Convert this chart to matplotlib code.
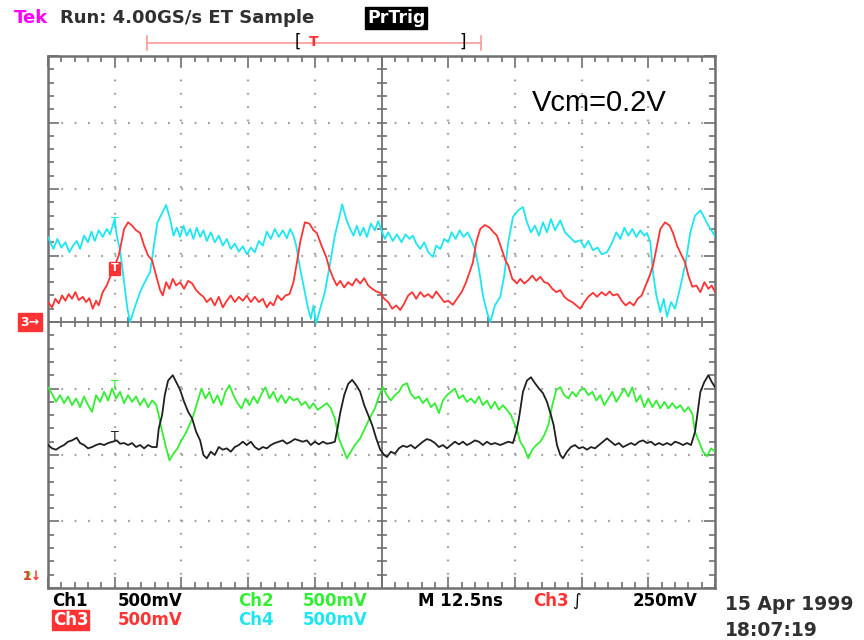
import numpy as np
from matplotlib import pyplot as plt

# screen is 10 x 8 divisions, time in div, level in div
ch4_t = [0.00, 0.08, 0.14, 0.20, 0.26, 0.32, 0.37, 0.43, 0.48, 0.54, 0.60, 0.65, 0.70, 0.76, 0.82, 0.88, 0.93, 0.97,
         1.00, 1.03, 1.08, 1.14, 1.19, 1.23, 1.30, 1.38, 1.45, 1.53, 1.58, 1.64, 1.70, 1.77, 1.83, 1.88, 1.93, 1.98,
         2.03, 2.08, 2.13, 2.18, 2.23, 2.28, 2.33, 2.38, 2.44, 2.50, 2.56, 2.62, 2.68, 2.74, 2.80, 2.86, 2.92, 2.98,
         3.04, 3.10, 3.16, 3.22, 3.28, 3.34, 3.40, 3.46, 3.52, 3.58, 3.63, 3.68, 3.72, 3.78, 3.84, 3.90, 3.94, 3.98,
         4.02, 4.08, 4.15, 4.23, 4.30, 4.36, 4.41, 4.47, 4.53, 4.58, 4.63, 4.68, 4.73, 4.78, 4.84, 4.90, 4.95, 5.00,
         5.05, 5.10, 5.17, 5.23, 5.30, 5.36, 5.42, 5.47, 5.52, 5.58, 5.64, 5.70, 5.77, 5.82, 5.88, 5.94, 6.00, 6.05,
         6.11, 6.17, 6.23, 6.29, 6.34, 6.40, 6.46, 6.52, 6.58, 6.63, 6.70, 6.78, 6.84, 6.90, 6.97, 7.05, 7.12, 7.18,
         7.24, 7.30, 7.36, 7.42, 7.48, 7.54, 7.60, 7.68, 7.75, 7.82, 7.90, 7.98, 8.04, 8.10, 8.17, 8.24, 8.30, 8.38,
         8.45, 8.52, 8.58, 8.64, 8.70, 8.76, 8.82, 8.88, 8.94, 8.98, 9.03, 9.07, 9.12, 9.18, 9.23, 9.28, 9.34, 9.40,
         9.48, 9.56, 9.63, 9.70, 9.78, 9.85, 9.90, 9.97, 10.0]
ch4_v = [1.28, 1.10, 1.25, 1.12, 1.20, 1.05, 1.14, 1.22, 1.10, 1.30, 1.20, 1.36, 1.22, 1.38, 1.28, 1.40, 1.32, 1.45,
         1.55, 1.30, 1.08, 0.60, 0.20, 0.00, 0.22, 0.45, 0.60, 0.75, 1.10, 1.50, 1.62, 1.76, 1.55, 1.30, 1.42, 1.28,
         1.45, 1.30, 1.40, 1.25, 1.42, 1.28, 1.38, 1.22, 1.35, 1.20, 1.30, 1.15, 1.25, 1.10, 1.18, 1.06, 1.14, 1.02,
         1.12, 1.05, 1.22, 1.15, 1.36, 1.25, 1.40, 1.28, 1.38, 1.26, 1.40, 1.30, 1.15, 0.80, 0.50, 0.20, 0.05, 0.25,
         -0.02, 0.20, 0.45, 0.89, 1.30, 1.55, 1.77, 1.55, 1.40, 1.30, 1.45, 1.30, 1.42, 1.28, 1.48, 1.38, 1.52, 1.38,
         1.25, 1.35, 1.22, 1.32, 1.20, 1.32, 1.25, 1.30, 1.18, 1.10, 1.20, 1.05, 0.98, 1.15, 1.10, 1.25, 1.20, 1.35,
         1.25, 1.38, 1.28, 1.35, 1.25, 1.10, 0.80, 0.40, 0.15, 0.00, 0.25, 0.38, 0.70, 1.20, 1.58, 1.68, 1.73, 1.50,
         1.35, 1.45, 1.30, 1.50, 1.35, 1.55, 1.38, 1.53, 1.35, 1.28, 1.20, 1.23, 1.12, 1.22, 1.08, 1.12, 1.02, 1.05,
         1.18, 1.35, 1.25, 1.42, 1.30, 1.40, 1.28, 1.38, 1.30, 1.34, 1.20, 0.74, 0.40, 0.15, 0.35, 0.08, 0.30, 0.20,
         0.53, 0.90, 1.35, 1.60, 1.68, 1.55, 1.45, 1.34, 1.28]

ch3_t = [0.00, 0.06, 0.11, 0.16, 0.21, 0.26, 0.31, 0.36, 0.41, 0.46, 0.52, 0.57, 0.62, 0.67, 0.72, 0.76, 0.82, 0.88,
         0.94, 1.00, 1.06, 1.10, 1.14, 1.20, 1.26, 1.32, 1.38, 1.44, 1.50, 1.56, 1.62, 1.68, 1.72, 1.77, 1.82, 1.87,
         1.92, 1.98, 2.04, 2.10, 2.16, 2.22, 2.28, 2.33, 2.38, 2.44, 2.50, 2.56, 2.62, 2.68, 2.74, 2.80, 2.86, 2.92,
         2.98, 3.04, 3.10, 3.16, 3.22, 3.28, 3.33, 3.38, 3.44, 3.50, 3.56, 3.62, 3.68, 3.73, 3.78, 3.85, 3.92, 3.98,
         4.03, 4.10, 4.17, 4.22, 4.28, 4.33, 4.38, 4.44, 4.50, 4.56, 4.62, 4.68, 4.74, 4.80, 4.86, 4.92, 4.98, 5.04,
         5.10, 5.16, 5.22, 5.28, 5.34, 5.40, 5.46, 5.52, 5.58, 5.64, 5.70, 5.76, 5.82, 5.88, 5.94, 6.00, 6.07, 6.13,
         6.20, 6.26, 6.32, 6.37, 6.42, 6.48, 6.55, 6.62, 6.68, 6.73, 6.80, 6.86, 6.90, 6.96, 7.03, 7.08, 7.14, 7.20,
         7.26, 7.32, 7.38, 7.44, 7.50, 7.56, 7.62, 7.68, 7.74, 7.80, 7.86, 7.92, 7.98, 8.04, 8.10, 8.17, 8.23, 8.30,
         8.36, 8.42, 8.47, 8.54, 8.60, 8.66, 8.72, 8.78, 8.84, 8.90, 8.96, 9.02, 9.07, 9.12, 9.18, 9.25, 9.32, 9.37,
         9.43, 9.50, 9.55, 9.60, 9.66, 9.72, 9.78, 9.84, 9.90, 9.95, 10.0]
ch3_v = [0.30, 0.22, 0.35, 0.28, 0.40, 0.32, 0.42, 0.35, 0.45, 0.33, 0.38, 0.30, 0.36, 0.20, 0.32, 0.25, 0.45, 0.55,
         0.70, 0.85, 1.00, 1.20, 1.40, 1.50, 1.45, 1.38, 1.34, 1.15, 1.00, 0.93, 0.70, 0.48, 0.40, 0.60, 0.50, 0.65,
         0.55, 0.60, 0.50, 0.62, 0.58, 0.48, 0.42, 0.38, 0.30, 0.36, 0.25, 0.38, 0.22, 0.32, 0.40, 0.30, 0.38, 0.32,
         0.40, 0.30, 0.38, 0.30, 0.35, 0.22, 0.30, 0.25, 0.40, 0.33, 0.40, 0.42, 0.60, 0.89, 1.20, 1.50, 1.48, 1.38,
         1.34, 1.15, 0.98, 0.80, 0.65, 0.55, 0.62, 0.52, 0.60, 0.55, 0.65, 0.58, 0.66, 0.55, 0.50, 0.46, 0.44, 0.35,
         0.30, 0.20, 0.25, 0.18, 0.28, 0.40, 0.45, 0.35, 0.45, 0.38, 0.42, 0.36, 0.46, 0.38, 0.30, 0.32, 0.26, 0.35,
         0.45, 0.58, 0.75, 0.90, 1.20, 1.40, 1.46, 1.42, 1.35, 1.30, 1.10, 0.92, 0.85, 0.65, 0.58, 0.65, 0.58, 0.63,
         0.70, 0.62, 0.68, 0.60, 0.58, 0.50, 0.45, 0.48, 0.38, 0.33, 0.30, 0.25, 0.20, 0.30, 0.38, 0.44, 0.38, 0.45,
         0.40, 0.46, 0.40, 0.42, 0.32, 0.25, 0.30, 0.25, 0.35, 0.40, 0.55, 0.70, 0.85, 1.10, 1.40, 1.50, 1.45, 1.34,
         1.15, 1.00, 0.90, 0.70, 0.53, 0.55, 0.45, 0.60, 0.50, 0.55, 0.45]

ch2_t = [0.00, 0.06, 0.12, 0.18, 0.24, 0.30, 0.36, 0.42, 0.48, 0.54, 0.60, 0.66, 0.72, 0.78, 0.84, 0.90, 0.96, 1.02,
         1.08, 1.14, 1.20, 1.26, 1.32, 1.38, 1.44, 1.50, 1.56, 1.62, 1.66, 1.70, 1.76, 1.82, 1.88, 1.94, 2.00, 2.06,
         2.12, 2.18, 2.24, 2.30, 2.36, 2.42, 2.48, 2.54, 2.60, 2.66, 2.72, 2.78, 2.84, 2.90, 2.96, 3.02, 3.08, 3.14,
         3.20, 3.26, 3.32, 3.38, 3.44, 3.50, 3.56, 3.62, 3.68, 3.74, 3.80, 3.86, 3.92, 3.98, 4.04, 4.10, 4.18, 4.24,
         4.30, 4.36, 4.42, 4.48, 4.54, 4.60, 4.68, 4.75, 4.82, 4.90, 4.96, 5.02, 5.08, 5.14, 5.20, 5.26, 5.32, 5.38,
         5.44, 5.50, 5.56, 5.62, 5.68, 5.74, 5.80, 5.86, 5.92, 5.98, 6.04, 6.10, 6.16, 6.22, 6.28, 6.34, 6.40, 6.46,
         6.52, 6.58, 6.64, 6.70, 6.76, 6.82, 6.88, 6.94, 6.98, 7.03, 7.08, 7.14, 7.20, 7.26, 7.32, 7.38, 7.44, 7.50,
         7.56, 7.62, 7.68, 7.74, 7.80, 7.86, 7.92, 7.98, 8.04, 8.10, 8.16, 8.22, 8.28, 8.34, 8.40, 8.46, 8.52, 8.58,
         8.64, 8.70, 8.76, 8.82, 8.88, 8.94, 9.00, 9.06, 9.12, 9.18, 9.24, 9.30, 9.36, 9.42, 9.48, 9.54, 9.60, 9.66,
         9.70, 9.76, 9.82, 9.88, 9.94, 10.0]
ch2_v = [-0.98, -1.08, -1.20, -1.10, -1.22, -1.12, -1.25, -1.15, -1.28, -1.12, -1.25, -1.35, -1.10, -1.20, -1.05,
         -1.18, -1.00, -1.15, -1.05, -1.22, -1.10, -1.20, -1.12, -1.25, -1.15, -1.28, -1.18, -1.24, -1.40, -1.60,
         -1.85, -2.08, -1.98, -1.90, -1.78, -1.68, -1.55, -1.40, -1.20, -1.00, -1.15, -1.05, -1.22, -1.10, -1.25,
         -1.05, -0.95, -1.10, -1.22, -1.30, -1.15, -1.25, -1.12, -1.22, -1.08, -0.98, -1.15, -1.05, -1.20, -1.10,
         -1.22, -1.12, -1.18, -1.15, -1.25, -1.20, -1.30, -1.22, -1.32, -1.28, -1.22, -1.30, -1.45, -1.75, -1.90,
         -2.05, -1.95, -1.85, -1.75, -1.60, -1.45, -1.30, -1.12, -0.98, -1.10, -1.18, -1.10, -1.05, -0.95, -0.92,
         -1.08, -1.15, -1.12, -1.22, -1.15, -1.28, -1.22, -1.37, -1.18, -1.10, -1.05, -1.00, -1.15, -1.10, -1.20,
         -1.15, -1.22, -1.12, -1.25, -1.18, -1.30, -1.20, -1.32, -1.25, -1.32, -1.40, -1.50, -1.62, -1.80, -1.90,
         -2.05, -1.92, -1.85, -1.80, -1.70, -1.55, -1.25, -1.02, -0.98, -1.10, -1.15, -1.05, -1.12, -1.02, -1.00,
         -1.10, -1.05, -1.18, -1.10, -1.25, -1.15, -1.05, -1.20, -1.10, -1.00, -1.12, -0.98, -1.20, -1.10, -1.28,
         -1.15, -1.28, -1.18, -1.30, -1.20, -1.30, -1.22, -1.30, -1.25, -1.35, -1.28, -1.38, -1.65, -1.80, -1.95,
         -2.02, -1.90, -1.95]

ch1_t = [0.00, 0.06, 0.12, 0.18, 0.24, 0.30, 0.36, 0.43, 0.48, 0.54, 0.60, 0.66, 0.72, 0.78, 0.84, 0.90, 0.97, 1.03,
         1.08, 1.14, 1.20, 1.26, 1.32, 1.38, 1.44, 1.50, 1.56, 1.63, 1.66, 1.71, 1.75, 1.80, 1.87, 1.92, 1.98, 2.04,
         2.10, 2.16, 2.22, 2.28, 2.33, 2.38, 2.44, 2.50, 2.56, 2.62, 2.68, 2.74, 2.80, 2.86, 2.92, 2.98, 3.04, 3.10,
         3.16, 3.22, 3.28, 3.34, 3.40, 3.46, 3.52, 3.58, 3.64, 3.70, 3.76, 3.82, 3.88, 3.94, 4.00, 4.06, 4.12, 4.18,
         4.24, 4.30, 4.34, 4.38, 4.44, 4.50, 4.56, 4.62, 4.68, 4.74, 4.80, 4.86, 4.92, 4.98, 5.04, 5.08, 5.14, 5.20,
         5.26, 5.32, 5.38, 5.44, 5.50, 5.56, 5.62, 5.68, 5.74, 5.80, 5.86, 5.92, 5.98, 6.04, 6.10, 6.16, 6.22, 6.28,
         6.34, 6.40, 6.46, 6.52, 6.58, 6.64, 6.70, 6.78, 6.85, 6.90, 6.97, 7.02, 7.06, 7.12, 7.18, 7.24, 7.30, 7.36,
         7.42, 7.48, 7.54, 7.58, 7.63, 7.68, 7.72, 7.78, 7.84, 7.90, 7.96, 8.02, 8.08, 8.14, 8.20, 8.26, 8.32, 8.38,
         8.44, 8.50, 8.56, 8.62, 8.68, 8.74, 8.80, 8.86, 8.92, 8.98, 9.04, 9.10, 9.16, 9.22, 9.28, 9.34, 9.40, 9.46,
         9.52, 9.58, 9.64, 9.70, 9.74, 9.78, 9.84, 9.90, 9.95, 10.0]
ch1_v = [-1.85, -1.90, -1.92, -1.88, -1.85, -1.80, -1.78, -1.74, -1.82, -1.85, -1.90, -1.88, -1.85, -1.83, -1.85,
         -1.82, -1.80, -1.78, -1.83, -1.82, -1.85, -1.82, -1.88, -1.85, -1.90, -1.85, -1.88, -1.88, -1.60, -1.40,
         -1.10, -0.88, -0.80, -0.90, -1.02, -1.20, -1.35, -1.45, -1.65, -1.78, -2.00, -2.05, -1.95, -2.00, -1.88,
         -1.92, -1.90, -1.95, -1.88, -1.85, -1.80, -1.85, -1.80, -1.88, -1.92, -1.88, -1.90, -1.85, -1.82, -1.80,
         -1.78, -1.83, -1.80, -1.76, -1.78, -1.80, -1.78, -1.85, -1.80, -1.84, -1.80, -1.83, -1.82, -1.80, -1.60,
         -1.37, -1.10, -0.93, -0.87, -0.95, -1.05, -1.25, -1.40, -1.55, -1.75, -1.92, -2.00, -2.03, -1.95, -1.98,
         -1.90, -1.86, -1.88, -1.85, -1.90, -1.85, -1.80, -1.76, -1.78, -1.82, -1.88, -1.85, -1.90, -1.85, -1.80,
         -1.84, -1.80, -1.85, -1.82, -1.78, -1.80, -1.85, -1.80, -1.84, -1.82, -1.85, -1.82, -1.80, -1.82, -1.65,
         -1.45, -1.05, -0.88, -0.83, -0.92, -1.00, -1.07, -1.20, -1.40, -1.55, -1.85, -2.00, -2.05, -1.95, -1.88,
         -1.85, -1.90, -1.88, -1.92, -1.88, -1.90, -1.85, -1.80, -1.75, -1.80, -1.85, -1.82, -1.88, -1.85, -1.82,
         -1.85, -1.80, -1.78, -1.82, -1.80, -1.85, -1.82, -1.85, -1.82, -1.85, -1.80, -1.82, -1.85, -1.82, -1.85,
         -1.65, -1.35, -1.05, -0.90, -0.80, -0.90, -0.98]

CYAN = '#1ee6f0'
RED = '#ff3333'
GREEN = '#33ee33'
BLACK = '#202020'
GRAT = '#707070'
DOT = '#a0a0a0'
TXT = '#303030'

fig = plt.figure(figsize=(8.64, 6.4), dpi=100)
ax = fig.add_axes([0.0556, 0.0813, 0.772, 0.831])
ax.set_xlim(0, 10)
ax.set_ylim(-4, 4)

# dotted graticule
for gx in range(1, 10):
    if gx != 5:
        ax.plot([gx, gx], [-4, 4], color=DOT, lw=1.6, linestyle=(0, (0.8, 5.2)), zorder=1)
for gy in range(-3, 4):
    if gy != 0:
        ax.plot([0, 10], [gy, gy], color=DOT, lw=1.6, linestyle=(0, (0.8, 5.2)), zorder=1)
ax.axhline(0, color=GRAT, lw=1.3, zorder=1)
ax.axvline(5, color=GRAT, lw=1.3, zorder=1)
minor_x = np.arange(0.2, 10, 0.2)
minor_y = np.arange(-3.8, 4, 0.2)
ax.plot(minor_x, np.zeros_like(minor_x), '|', color=GRAT, ms=7, mew=1.2, zorder=1)
ax.plot(np.full_like(minor_y, 5), minor_y, '_', color=GRAT, ms=7, mew=1.2, zorder=1)

ax.set_xticks(np.arange(0, 11, 1))
ax.set_yticks(np.arange(-4, 5, 1))
ax.set_xticks(np.arange(0, 10.01, 0.2), minor=True)
ax.set_yticks(np.arange(-4, 4.01, 0.2), minor=True)
ax.tick_params(which='both', direction='in', top=True, right=True, labelbottom=False, labelleft=False,
               color=GRAT, width=1.2)
ax.tick_params(which='major', length=8)
ax.tick_params(which='minor', length=4)
for s in ax.spines.values():
    s.set_color(GRAT)
    s.set_linewidth(1.8)

# traces
ax.plot(ch4_t, ch4_v, color=CYAN, lw=1.3, zorder=3)
ax.plot(ch3_t, ch3_v, color=RED, lw=1.3, zorder=4)
ax.plot(ch2_t, ch2_v, color=GREEN, lw=1.3, zorder=3)
ax.plot(ch1_t, ch1_v, color=BLACK, lw=1.3, zorder=4)

# trace trigger marks
ax.text(1.0, 1.50, 'T', color=CYAN, fontsize=9, ha='center', va='center', zorder=5)
ax.text(1.0, -0.95, 'T', color=GREEN, fontsize=9, ha='center', va='center', zorder=5)
ax.text(1.0, -1.72, 'T', color=BLACK, fontsize=9, ha='center', va='center', zorder=5)
ax.text(1.0, 0.81, 'T', color='white', fontsize=8, fontweight='bold', ha='center', va='center', zorder=6,
        bbox=dict(boxstyle='square,pad=0.15', fc=RED, ec=RED))

ax.text(0.725, 0.912, 'Vcm=0.2V', transform=ax.transAxes, fontsize=21, family='Liberation Sans',
        color='black', ha='left', va='center')

# header
fam = 'DejaVu Sans'
hs = 13
fig.text(14 / 864, 1 - 18 / 640, 'Tek', color='#ff00ff', fontsize=hs, fontweight='bold', family=fam, va='center')
fig.text(60 / 864, 1 - 18 / 640, 'Run: 4.00GS/s ET Sample', color=TXT, fontsize=hs, fontweight='bold',
         family=fam, va='center')
fig.text(367 / 864, 1 - 18 / 640, 'PrTrig', color='white', fontsize=hs - 0.5, fontweight='bold', family=fam,
         va='center', bbox=dict(boxstyle='square,pad=0.1', fc='black', ec='black'))

# trigger position bar
fig.add_artist(plt.Line2D([147 / 864, 481 / 864], [1 - 43 / 640] * 2, color='#ff9999', lw=1.2))
for bx in (147, 481):
    fig.add_artist(plt.Line2D([bx / 864] * 2, [1 - 36 / 640, 1 - 50 / 640], color='#ff9999', lw=1.2))
fig.text(298 / 864, 1 - 42 / 640, '[', color='black', fontsize=12, ha='center', va='center')
fig.text(463 / 864, 1 - 42 / 640, ']', color='black', fontsize=12, ha='center', va='center')
fig.text(314 / 864, 1 - 42 / 640, 'T', color=RED, fontsize=10, fontweight='bold', ha='center', va='center')

# ground markers on the left (ch2 and ch1 markers sit on top of each other)
fig.text(30 / 864, 1 - 322 / 640, '3→', color='white', fontsize=9, fontweight='bold', ha='center',
         va='center', bbox=dict(boxstyle='square,pad=0.2', fc=RED, ec=RED))
fig.text(27 / 864, 1 - 577 / 640, '2', color=GREEN, fontsize=9, fontweight='bold', ha='center', va='center')
fig.text(32 / 864, 1 - 577 / 640, '1↓', color=RED, fontsize=9, fontweight='bold', ha='center', va='center')

# footer
fs = 12
row1 = 1 - 601 / 640
row2 = 1 - 620 / 640
fig.text(52 / 864, row1, 'Ch1', color='black', fontsize=fs, fontweight='bold', family=fam, va='center')
fig.text(118 / 864, row1, '500mV', color='black', fontsize=fs, fontweight='bold', family=fam, va='center')
fig.text(238 / 864, row1, 'Ch2', color=GREEN, fontsize=fs, fontweight='bold', family=fam, va='center')
fig.text(303 / 864, row1, '500mV', color=GREEN, fontsize=fs, fontweight='bold', family=fam, va='center')
fig.text(418 / 864, row1, 'M 12.5ns', color='black', fontsize=fs, fontweight='bold', family=fam, va='center')
fig.text(533 / 864, row1, 'Ch3', color=RED, fontsize=fs, fontweight='bold', family=fam, va='center')
fig.text(572 / 864, row1, '\u222b', color='black', fontsize=fs, family=fam, va='center')
fig.text(633 / 864, row1, '250mV', color='black', fontsize=fs, fontweight='bold', family=fam, va='center')
fig.text(53 / 864, row2, 'Ch3', color='white', fontsize=fs, fontweight='bold', family=fam, va='center',
         bbox=dict(boxstyle='square,pad=0.05', fc=RED, ec=RED))
fig.text(118 / 864, row2, '500mV', color=RED, fontsize=fs, fontweight='bold', family=fam, va='center')
fig.text(238 / 864, row2, 'Ch4', color=CYAN, fontsize=fs, fontweight='bold', family=fam, va='center')
fig.text(303 / 864, row2, '500mV', color=CYAN, fontsize=fs, fontweight='bold', family=fam, va='center')
fig.text(725 / 864, 1 - 605 / 640, '15 Apr 1999', color=TXT, fontsize=13.5, fontweight='bold', family=fam,
         va='center')
fig.text(725 / 864, 1 - 630 / 640, '18:07:19', color=TXT, fontsize=13.5, fontweight='bold', family=fam,
         va='center')

fig.savefig('out.png', dpi=100)
